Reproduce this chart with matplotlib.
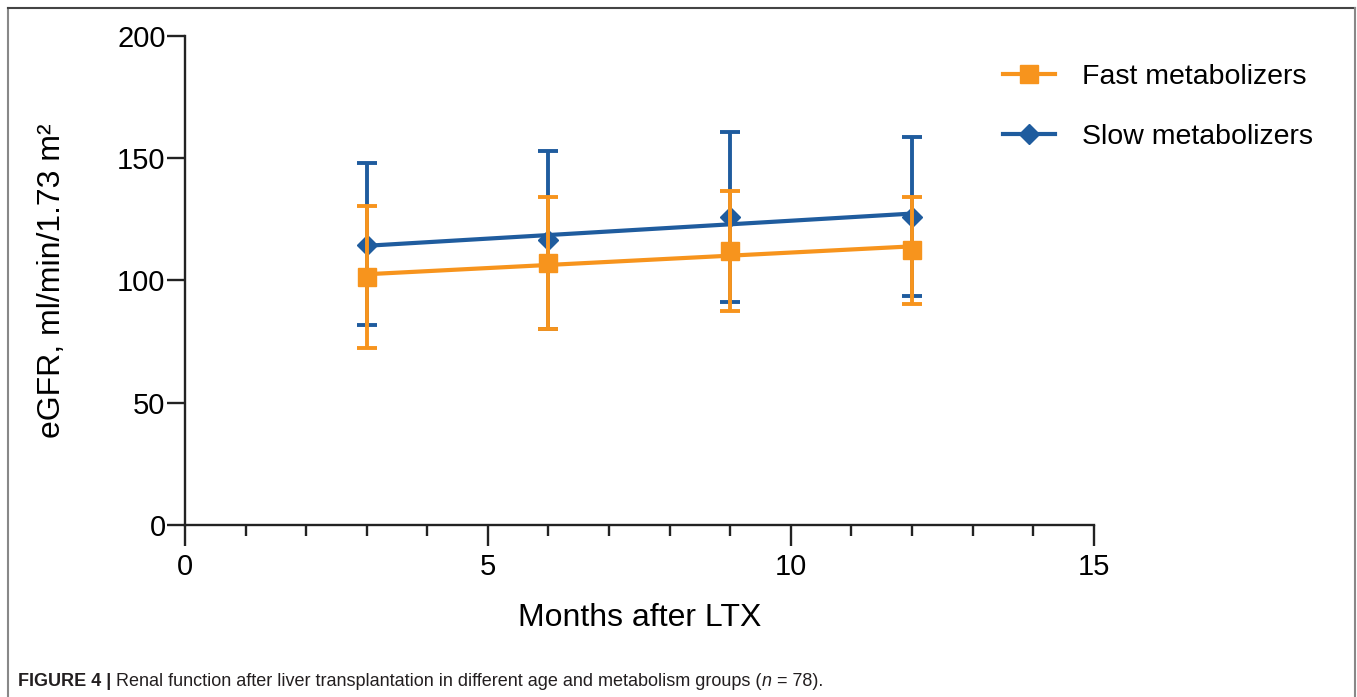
import numpy as np
import matplotlib
matplotlib.use("Agg")
import matplotlib.pyplot as plt
from matplotlib.lines import Line2D

plt.rcParams['font.family'] = ['Liberation Sans', 'DejaVu Sans']

# data (mean, upper and lower error bar end)
months = [3, 6, 9, 12]
fast_mean = [101.5, 107, 112, 112.5]
fast_hi = [130.5, 134, 136.6, 134]
fast_lo = [72.4, 80, 87.7, 90.3]
slow_mean = [114.5, 116.6, 126, 126]
slow_hi = [148, 153, 160.6, 158.5]
slow_lo = [81.8, 80, 91, 93.8]

orange = '#F7941D'
blue = '#1F5C9E'

fig = plt.figure(figsize=(13.57, 6.97), dpi=100)
ax = fig.add_axes([0.1363, 0.2468, 0.806 - 0.1363, 0.9484 - 0.2468])

x = np.array(months, dtype=float)


def draw(mean, hi, lo, color, marker, ms, z):
    mean = np.array(mean)
    err = [mean - np.array(lo), np.array(hi) - mean]
    ax.errorbar(x, mean, yerr=err, fmt=marker, color=color, ms=ms,
                elinewidth=2.8, capsize=7, capthick=2.8, zorder=z)
    # straight line is a linear fit through the means
    k, b = np.polyfit(x, mean, 1)
    ax.plot([x[0], x[-1]], [k * x[0] + b, k * x[-1] + b], color=color, lw=3, zorder=z)


draw(slow_mean, slow_hi, slow_lo, blue, 'D', 10, 3)
draw(fast_mean, fast_hi, fast_lo, orange, 's', 13.5, 4)

ax.set_xlim(0, 15)
ax.set_ylim(0, 200)
ax.set_xticks([0, 5, 10, 15])
ax.set_xticks(range(0, 16), minor=True)
ax.set_yticks([0, 50, 100, 150, 200])
for s in ['top', 'right']:
    ax.spines[s].set_visible(False)
for s in ['left', 'bottom']:
    ax.spines[s].set_linewidth(1.7)
    ax.spines[s].set_color('#222222')
ax.tick_params(axis='x', which='major', length=15, width=1.7, labelsize=21, pad=5, color='#222222')
ax.tick_params(axis='x', which='minor', length=8, width=1.7, color='#222222')
ax.tick_params(axis='y', which='major', length=13, width=1.7, labelsize=21, pad=1, color='#222222')

ax.set_xlabel('Months after LTX', fontsize=23, labelpad=16)
ax.set_ylabel('eGFR, ml/min/1.73 m²', fontsize=23, labelpad=36)

handles = [Line2D([], [], color=orange, lw=3, marker='s', ms=13.5),
           Line2D([], [], color=blue, lw=3, marker='D', ms=10)]
fig.legend(handles, ['Fast metabolizers', 'Slow metabolizers'], loc='upper left',
           bbox_to_anchor=(0.7205, 0.945), frameon=False, fontsize=20.5,
           handlelength=1.8, handletextpad=0.95, labelspacing=1.2)

# frame around the figure panel
fig.add_artist(Line2D([0.006, 0.006], [0, 0.988], transform=fig.transFigure, color='#888888', lw=1.5))
fig.add_artist(Line2D([0.006, 0.9985], [0.988, 0.988], transform=fig.transFigure, color='#444444', lw=1.5))
fig.add_artist(Line2D([0.9985, 0.9985], [0, 0.988], transform=fig.transFigure, color='#888888', lw=1.5))

# caption built from pieces
pieces = [('FIGURE 4 | ', 'bold', 'normal'),
          ('Renal function after liver transplantation in different age and metabolism groups (', 'normal', 'normal'),
          ('n', 'normal', 'italic'),
          (' = 78).', 'normal', 'normal')]
fig.canvas.draw()
r = fig.canvas.get_renderer()
xpos = 18
for txt, w, st in pieces:
    t = fig.text(xpos / 1357, 1 - 681 / 697, txt, fontsize=13, fontweight=w, fontstyle=st,
                 va='center', ha='left', color='#231f20',
                 family=['Liberation Sans Narrow', 'Liberation Sans', 'DejaVu Sans'])
    xpos += t.get_window_extent(r).width

fig.savefig('out.png', dpi=100)
